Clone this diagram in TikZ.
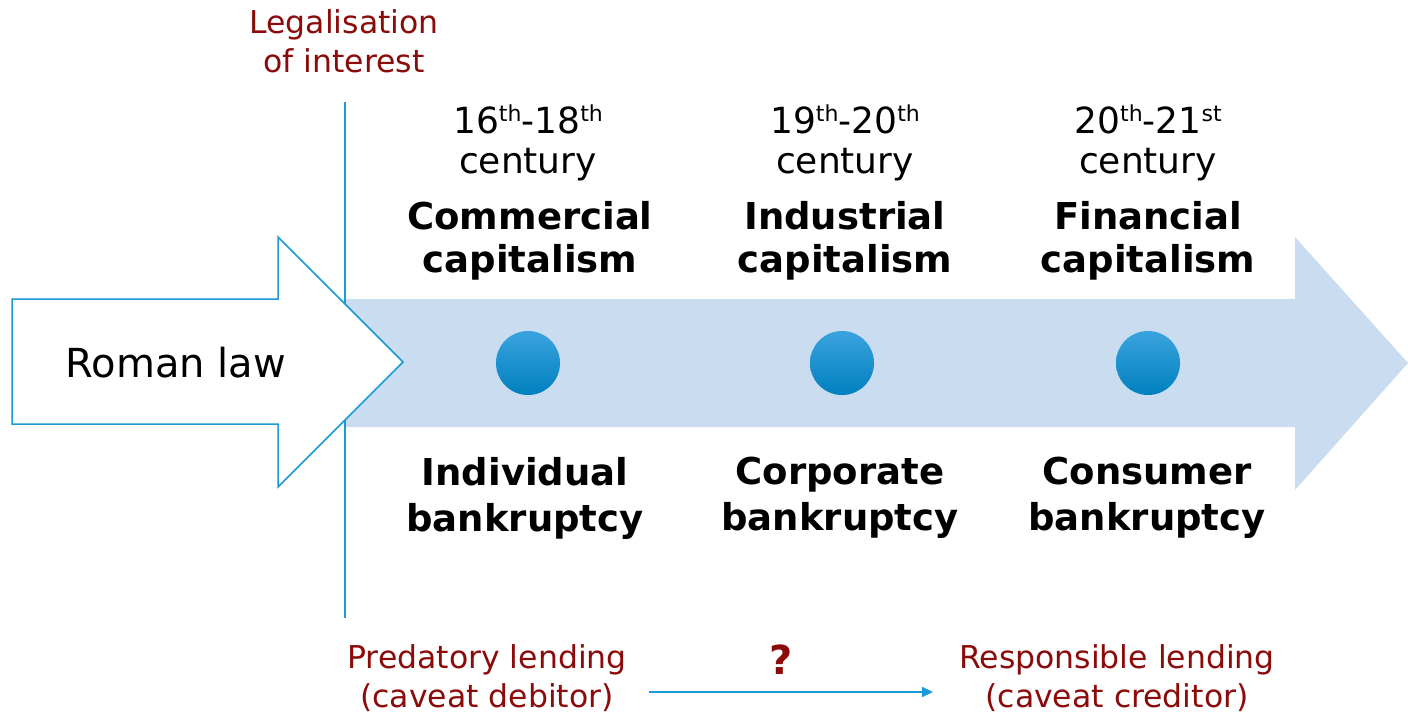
\documentclass[tikz,border=0pt]{standalone}
\usepackage{fontspec}
\setmainfont{DejaVu Sans}
\usetikzlibrary{arrows.meta}
\definecolor{darkred}{HTML}{8B0A0A}
\definecolor{lineblue}{HTML}{1A9AD6}
\definecolor{arrowfill}{HTML}{C9DCF0}
\definecolor{dottop}{HTML}{3AA3DE}
\definecolor{dotbot}{HTML}{0080BE}
\newcommand{\sups}[1]{\raisebox{0.6ex}{\fontsize{22}{22}\selectfont #1}}
\begin{document}
\begin{tikzpicture}[x=1pt,y=-1pt,
  redtxt/.style={text=darkred,font=\fontsize{31.5}{39}\selectfont,align=center,inner sep=0pt},
  centtxt/.style={text=black,font=\fontsize{36}{40}\selectfont,align=center,inner sep=0pt},
  boldtxt/.style={text=black,font=\fontsize{37}{43}\selectfont\bfseries,align=center,inner sep=0pt},
  boldtxtb/.style={boldtxt,font=\fontsize{37}{46}\selectfont\bfseries},
  dot/.style={circle,minimum size=64pt,inner sep=0pt,top color=dottop,bottom color=dotbot,draw=none}]
\useasboundingbox (0,0) rectangle (1408,713);
% big timeline arrow
\fill[arrowfill] (345,299) -- (1295,299) -- (1295,237) -- (1408,363) -- (1295,490) -- (1295,427) -- (345,427) -- cycle;
% vertical line
\coordinate (vtop) at (345,102);
\coordinate (vbot) at (345,618);
\draw[lineblue,line width=2pt] (vtop) -- (vbot);
% Roman law arrow
\draw[lineblue,line width=1.5pt,fill=white,line join=miter]
  (12,299) -- (278,299) -- (278,237) -- (403,362) -- (278,487) -- (278,424) -- (12,424) -- cycle;
\node[text=black,font=\fontsize{40}{44}\selectfont,inner sep=0pt] (roman) at (176,363) {Roman law};
% legalisation
\node[redtxt] (legal) at (344,41) {Legalisation\\of interest};
% centuries
\node[centtxt] (c1) at (528,143) {16\sups{th}-18\sups{th}\\century};
\node[centtxt] (c2) at (845,143) {19\sups{th}-20\sups{th}\\century};
\node[centtxt] (c3) at (1148,143) {20\sups{th}-21\sups{st}\\century};
% capitalism
\node[boldtxt] (k1) at (530,241) {Commercial\\capitalism};
\node[boldtxt] (k2) at (845,241) {Industrial\\capitalism};
\node[boldtxt] (k3) at (1148,241) {Financial\\capitalism};
% dots
\node[dot] (d1) at (528,363) {};
\node[dot] (d2) at (842,363) {};
\node[dot] (d3) at (1148,363) {};
% bankruptcy
\node[boldtxtb] (b1) at (525,498) {Individual\\bankruptcy};
\node[boldtxtb] (b2) at (840,498) {Corporate\\bankruptcy};
\node[boldtxtb] (b3) at (1147,498) {Consumer\\bankruptcy};
% lending
\node[redtxt] (pred) at (487,678) {Predatory lending\\(caveat debitor)};
\node[redtxt] (resp) at (1117,678) {Responsible lending\\(caveat creditor)};
\node[text=darkred,font=\fontsize{40}{40}\selectfont\bfseries,inner sep=0pt] (q) at (781,660) {?};
\coordinate (a1) at (649,692);
\coordinate (a2) at (933,692);
\draw[lineblue,line width=2pt,-{Triangle[length=11pt,width=10pt]}] (a1) -- (a2);
\end{tikzpicture}
\end{document}
